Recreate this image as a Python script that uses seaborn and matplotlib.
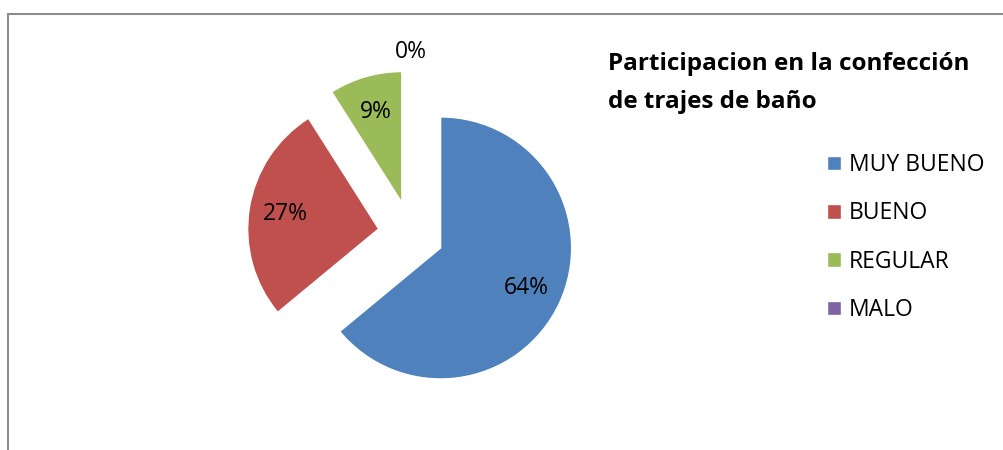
import matplotlib
matplotlib.use('Agg')
import matplotlib.pyplot as plt
from matplotlib.lines import Line2D
import seaborn as sns

categorias = ['MUY BUENO', 'BUENO', 'REGULAR', 'MALO']
valores = [64, 27, 9, 0]
colores = ['#4F81BD', '#C0504D', '#9BBB59', '#8064A2']
titulo = 'Participacion en la confección\nde trajes de baño'

sns.set_style('white')
plt.rcParams['font.family'] = ['Open Sans', 'DejaVu Sans']
plt.rcParams['text.color'] = 'black'

fig = plt.figure(figsize=(10.04, 4.5), dpi=100)
W, H = 1004, 450

# pie centre ~ (411, 234) px, radius 131 px
cx, cy, r = 411, 234, 131
half = 1.5 * r
ax = fig.add_axes([(cx - half) / W, (H - cy - half) / H, 2 * half / W, 2 * half / H])

def pct(p):
    return '' if p < 0.5 else f'{p:.0f}%'

etiquetas = ['' if v > 0 else f'{v}%' for v in valores]
wedges, textos, autotextos = ax.pie(
    valores, colors=colores, startangle=90, counterclock=False,
    explode=[0.25] * len(valores), autopct=pct, pctdistance=0.72,
    labels=etiquetas, labeldistance=1.14, radius=1,
    textprops={'fontsize': 16.5, 'color': 'black'})
for t in textos:
    t.set_ha('center')
ax.set_xlim(-1.5, 1.5)
ax.set_ylim(-1.5, 1.5)
ax.set_aspect('equal')
ax.axis('off')

fig.text(608 / W, 1 - 52 / H, titulo, fontsize=17.5, fontweight='bold',
         ha='left', va='top', linespacing=1.75, color='black')

fig.legend(wedges, categorias, loc='upper left',
           bbox_to_anchor=(818 / W, 1 - 144 / H), frameon=False,
           fontsize=16.5, handlelength=0.6, handleheight=0.6,
           handletextpad=0.35, labelspacing=1.06, borderaxespad=0,
           labelcolor='black')

fig.add_artist(Line2D([8.5 / W, 1], [1 - 13.5 / H, 1 - 13.5 / H],
                      transform=fig.transFigure, color='#8c8c8c', lw=1.5))
fig.add_artist(Line2D([8.5 / W, 8.5 / W], [0, 1 - 13.5 / H],
                      transform=fig.transFigure, color='#8c8c8c', lw=1.5))

fig.savefig('out.png', dpi=100)
